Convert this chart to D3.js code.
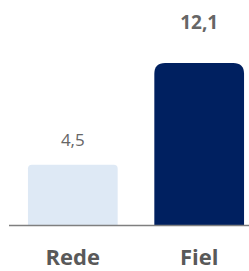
<!DOCTYPE html>
<html><head><meta charset="utf-8">
<script src="https://cdn.jsdelivr.net/npm/d3@7"></script>
<style>html,body{margin:0;padding:0;background:#fff;}</style>
</head><body><svg id="c" width="249" height="271"></svg>
<script>
const categories = ["Rede", "Fiel"];
const values = [4.5, 12.1];
const valueLabels = ["4,5", "12,1"];
const colors = ["#DEE9F5", "#002060"];
const labelWeights = ["normal", "bold"];

const svg = d3.select("#c");
const baseY = 225;
const x = d3.scaleBand().domain(categories).range([9, 263]).paddingInner(0.29).paddingOuter(0.15);
const y = d3.scaleLinear().domain([0, 12.1]).range([baseY, 63]);

function topRounded(x0, y0, w, h, r) {
  r = Math.min(r, w / 2, h);
  return `M${x0},${y0 + h}V${y0 + r}Q${x0},${y0} ${x0 + r},${y0}H${x0 + w - r}Q${x0 + w},${y0} ${x0 + w},${y0 + r}V${y0 + h}Z`;
}

svg.selectAll("path.bar").data(values).join("path").attr("class", "bar")
  .attr("fill", (d, i) => colors[i])
  .attr("d", (d, i) => {
    const h = baseY - y(d);
    return topRounded(x(categories[i]), y(d), x.bandwidth(), h, h / 15);
  });

svg.append("line").attr("x1", 9).attr("x2", 249).attr("y1", baseY + 0.5).attr("y2", baseY + 0.5)
  .attr("stroke", "#7F7F7F").attr("stroke-width", 1.5);

svg.selectAll("text.val").data(values).join("text").attr("class", "val")
  .attr("x", (d, i) => x(categories[i]) + x.bandwidth() / 2)
  .attr("y", (d, i) => y(d) - (labelWeights[i] === "bold" ? 34 : 19))
  .attr("text-anchor", "middle")
  .attr("font-family", "Open Sans")
  .attr("font-size", (d, i) => labelWeights[i] === "bold" ? 19 : 17)
  .attr("font-weight", (d, i) => labelWeights[i])
  .attr("fill", "#666666")
  .text((d, i) => valueLabels[i]);

svg.selectAll("text.cat").data(categories).join("text").attr("class", "cat")
  .attr("x", d => x(d) + x.bandwidth() / 2)
  .attr("y", 265)
  .attr("text-anchor", "middle")
  .attr("font-family", "Open Sans")
  .attr("font-size", 22)
  .attr("font-weight", "bold")
  .attr("fill", "#595959")
  .text(d => d);
</script></body></html>
